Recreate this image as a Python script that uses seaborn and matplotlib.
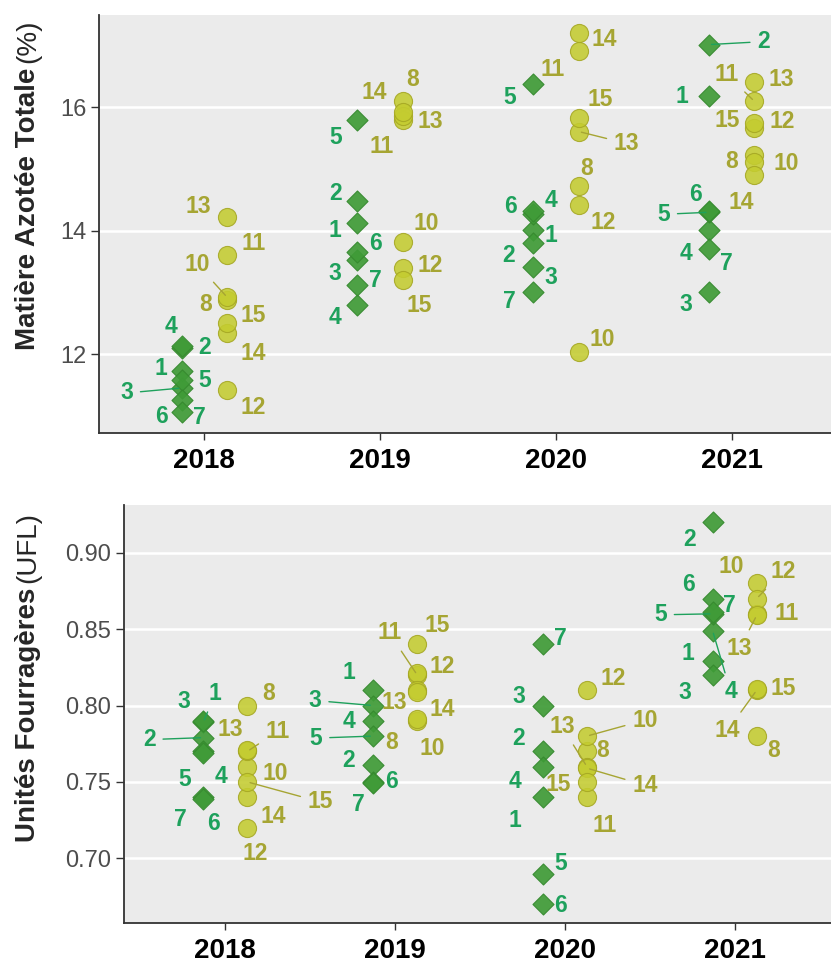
import numpy as np
import pandas as pd
import matplotlib
matplotlib.use('Agg')
import matplotlib.pyplot as plt
import seaborn as sns

years = ['2018', '2019', '2020', '2021']
ids_a = [1, 2, 3, 4, 5, 6, 7]
ids_b = [8, 10, 11, 12, 13, 14, 15]

# Matiere Azotee Totale (%), one row per year, columns follow ids_a / ids_b
mat_a = [[11.72, 12.10, 11.45, 12.13, 11.58, 11.25, 11.06],
         [14.12, 14.49, 13.52, 12.79, 15.79, 13.66, 13.12],
         [14.02, 13.80, 13.41, 14.28, 16.38, 14.32, 13.01],
         [16.19, 17.02, 13.01, 14.02, 14.30, 14.32, 13.71]]
mat_b = [[12.88, 12.92, 13.60, 11.42, 14.22, 12.34, 12.51],
         [16.10, 13.82, 15.79, 13.39, 15.86, 15.93, 13.20],
         [14.72, 12.04, 16.91, 14.42, 15.61, 17.21, 15.83],
         [15.23, 15.12, 16.10, 15.66, 16.42, 14.91, 15.75]]

# Unites Fourrageres (UFL)
ufl_a = [[0.789, 0.779, 0.790, 0.770, 0.769, 0.740, 0.739],
         [0.810, 0.761, 0.800, 0.790, 0.780, 0.750, 0.749],
         [0.740, 0.770, 0.800, 0.760, 0.690, 0.670, 0.840],
         [0.829, 0.920, 0.820, 0.849, 0.860, 0.870, 0.861]]
ufl_b = [[0.800, 0.760, 0.770, 0.720, 0.771, 0.740, 0.750],
         [0.790, 0.791, 0.820, 0.821, 0.810, 0.809, 0.840],
         [0.770, 0.780, 0.740, 0.810, 0.760, 0.759, 0.750],
         [0.780, 0.880, 0.860, 0.870, 0.859, 0.810, 0.811]]

# label offsets in pixels (dx, dy) from the point, like ggrepel placed them
lab_mat = {
    ('2018', 1): (-21, 3), ('2018', 2): (23, 0), ('2018', 3): (-55, -5), ('2018', 4): (-11, 20),
    ('2018', 5): (23, -1), ('2018', 6): (-20, -16), ('2018', 7): (18, -5), ('2018', 8): (-22, -5),
    ('2018', 10): (-30, 33), ('2018', 11): (26, 12), ('2018', 12): (26, -18), ('2018', 13): (-29, 11),
    ('2018', 14): (26, -20), ('2018', 15): (26, 7),
    ('2019', 1): (-22, -7), ('2019', 2): (-22, 7), ('2019', 3): (-22, -13), ('2019', 4): (-22, -12),
    ('2019', 5): (-22, -17), ('2019', 6): (18, 8), ('2019', 7): (18, 5), ('2019', 8): (10, 22),
    ('2019', 10): (23, 18), ('2019', 11): (-21, -26), ('2019', 12): (27, 3), ('2019', 13): (27, -5),
    ('2019', 14): (-29, 19), ('2019', 15): (16, -25),
    ('2020', 1): (18, -6), ('2020', 2): (-24, -12), ('2020', 3): (18, -10), ('2020', 4): (18, 13),
    ('2020', 5): (-23, -13), ('2020', 6): (-23, 5), ('2020', 7): (-24, -10), ('2020', 8): (8, 18),
    ('2020', 10): (24, 12), ('2020', 11): (-26, -18), ('2020', 12): (24, -18), ('2020', 13): (48, -12),
    ('2020', 14): (26, -7), ('2020', 15): (21, 18),
    ('2021', 1): (-27, -1), ('2021', 2): (55, 3), ('2021', 3): (-23, -13), ('2021', 4): (-23, -24),
    ('2021', 5): (-45, -2), ('2021', 6): (-13, 17), ('2021', 7): (18, -15), ('2021', 8): (-23, -7),
    ('2021', 10): (32, -2), ('2021', 11): (-28, 27), ('2021', 12): (28, 7), ('2021', 13): (27, 2),
    ('2021', 14): (-13, -28), ('2021', 15): (-27, 2),
}
seg_mat = {('2018', 3), ('2018', 10), ('2020', 13), ('2021', 2), ('2021', 5), ('2021', 11)}

lab_ufl = {
    ('2018', 1): (12, 29), ('2018', 2): (-54, -2), ('2018', 3): (-19, 19), ('2018', 4): (18, -25),
    ('2018', 5): (-19, -27), ('2018', 6): (10, -26), ('2018', 7): (-23, -21), ('2018', 8): (21, 12),
    ('2018', 10): (28, -7), ('2018', 11): (30, 20), ('2018', 12): (8, -26), ('2018', 13): (-17, 20),
    ('2018', 14): (26, -19), ('2018', 15): (73, -20),
    ('2019', 1): (-24, 18), ('2019', 2): (-24, 5), ('2019', 3): (-58, 5), ('2019', 4): (-24, -1),
    ('2019', 5): (-57, -2), ('2019', 6): (18, 0), ('2019', 7): (-15, -21), ('2019', 8): (-26, -22),
    ('2019', 10): (15, -29), ('2019', 11): (-28, 42), ('2019', 12): (25, 7), ('2019', 13): (-23, -12),
    ('2019', 14): (25, -18), ('2019', 15): (20, 19),
    ('2020', 1): (-28, -23), ('2020', 2): (-24, 13), ('2020', 3): (-24, 9), ('2020', 4): (-28, -15),
    ('2020', 5): (18, 10), ('2020', 6): (18, -1), ('2020', 7): (18, 6), ('2020', 8): (16, 1),
    ('2020', 10): (58, 16), ('2020', 11): (18, -28), ('2020', 12): (26, 12), ('2020', 13): (-25, 40),
    ('2020', 14): (58, -17), ('2020', 15): (-29, -3),
    ('2021', 1): (-25, 8), ('2021', 2): (-23, -17), ('2021', 3): (-28, -18), ('2021', 4): (18, -61),
    ('2021', 5): (-52, -1), ('2021', 6): (-24, 14), ('2021', 7): (17, 7), ('2021', 8): (17, -14),
    ('2021', 10): (-25, 17), ('2021', 11): (30, 0), ('2021', 12): (26, 27), ('2021', 13): (-17, -33),
    ('2021', 14): (-29, -40), ('2021', 15): (26, 0),
}
seg_ufl = {('2018', 1), ('2018', 2), ('2018', 11), ('2018', 15), ('2019', 3), ('2019', 5),
           ('2019', 11), ('2020', 10), ('2020', 13), ('2020', 14), ('2021', 4), ('2021', 5),
           ('2021', 12), ('2021', 13), ('2021', 14)}

green, green_edge, green_txt = '#3f9b37', '#35892e', '#1ea15c'
yel, yel_edge, yel_txt = '#c4cc30', '#a5a723', '#a6a533'
dodge = 0.13


def long_df(va, vb):
    rows = []
    for i, y in enumerate(years):
        for k, v in zip(ids_a, va[i]):
            rows.append((y, k, 'A', v, i - dodge))
        for k, v in zip(ids_b, vb[i]):
            rows.append((y, k, 'B', v, i + dodge))
    return pd.DataFrame(rows, columns=['year', 'id', 'grp', 'val', 'xpos'])


def panel(ax, df, labs, segs, yticks, ylim):
    ax.set_facecolor('#ebebeb')
    sns.scatterplot(data=df[df.grp == 'A'], x='xpos', y='val', marker='D', s=115,
                    color=green, edgecolor=green_edge, linewidth=0.8, alpha=0.92,
                    ax=ax, legend=False, zorder=3)
    sns.scatterplot(data=df[df.grp == 'B'], x='xpos', y='val', marker='o', s=170,
                    color=yel, edgecolor=yel_edge, linewidth=0.8, alpha=0.88,
                    ax=ax, legend=False, zorder=3)
    for r in df.itertuples():
        dx, dy = labs[(r.year, r.id)]
        c = green_txt if r.grp == 'A' else yel_txt
        arrow = None
        if (r.year, r.id) in segs:
            arrow = dict(arrowstyle='-', color=c, lw=1.0, shrinkA=3, shrinkB=2)
        ax.annotate(str(r.id), xy=(r.xpos, r.val), xytext=(dx, dy), textcoords='offset pixels',
                    ha='center', va='center', fontsize=16.5, fontweight='bold', color=c,
                    arrowprops=arrow, zorder=4)
    ax.set_xlim(-0.6, 3.6)
    ax.set_ylim(*ylim)
    ax.set_xticks(range(len(years)))
    ax.set_xticklabels(years, fontsize=20, fontweight='bold', color='black')
    ax.set_yticks(yticks)
    ax.set_xlabel('')
    ax.set_ylabel('')
    ax.grid(axis='y', color='white', lw=1.8)
    ax.grid(axis='x', visible=False)
    ax.set_axisbelow(True)
    for s in ['top', 'right']:
        ax.spines[s].set_visible(False)
    for s in ['left', 'bottom']:
        ax.spines[s].set_color('#333333')
        ax.spines[s].set_linewidth(1.3)
    ax.tick_params(axis='x', length=5, width=1, color='#333333', pad=6)
    ax.tick_params(axis='y', length=6, width=1, color='#333333', pad=3,
                   labelsize=17, labelcolor='#4d4d4d')


sns.set_style('ticks')
plt.rcParams['font.family'] = ['Liberation Sans', 'DejaVu Sans']

fig = plt.figure(figsize=(8.31, 9.63), dpi=100)
ax1 = fig.add_axes([99 / 831, 1 - 433 / 963, 738 / 831, 418 / 963])
ax2 = fig.add_axes([123.5 / 831, 1 - 923 / 963, 713 / 831, 418 / 963])

panel(ax1, long_df(mat_a, mat_b), lab_mat, seg_mat, [12, 14, 16], (10.72, 17.50))
panel(ax2, long_df(ufl_a, ufl_b), lab_ufl, seg_ufl, [0.70, 0.75, 0.80, 0.85, 0.90], (0.6577, 0.9312))
ax2.set_yticklabels(['0.70', '0.75', '0.80', '0.85', '0.90'])

t1 = fig.text(28 / 831, 1 - 350 / 963, 'Matière Azotée Totale', rotation=90,
              ha='center', va='bottom', fontsize=20, fontweight='bold')
fig.add_artist(matplotlib.text.Annotation('(%)', xy=(0.5, 1.0), xycoords=t1, xytext=(0, 5),
                                          textcoords='offset pixels', rotation=90,
                                          ha='center', va='bottom', fontsize=20))
t2 = fig.text(28 / 831, 1 - 842 / 963, 'Unités Fourragères', rotation=90,
              ha='center', va='bottom', fontsize=20, fontweight='bold')
fig.add_artist(matplotlib.text.Annotation('(UFL)', xy=(0.5, 1.0), xycoords=t2, xytext=(0, 5),
                                          textcoords='offset pixels', rotation=90,
                                          ha='center', va='bottom', fontsize=20))

fig.savefig('out.png', dpi=100)
